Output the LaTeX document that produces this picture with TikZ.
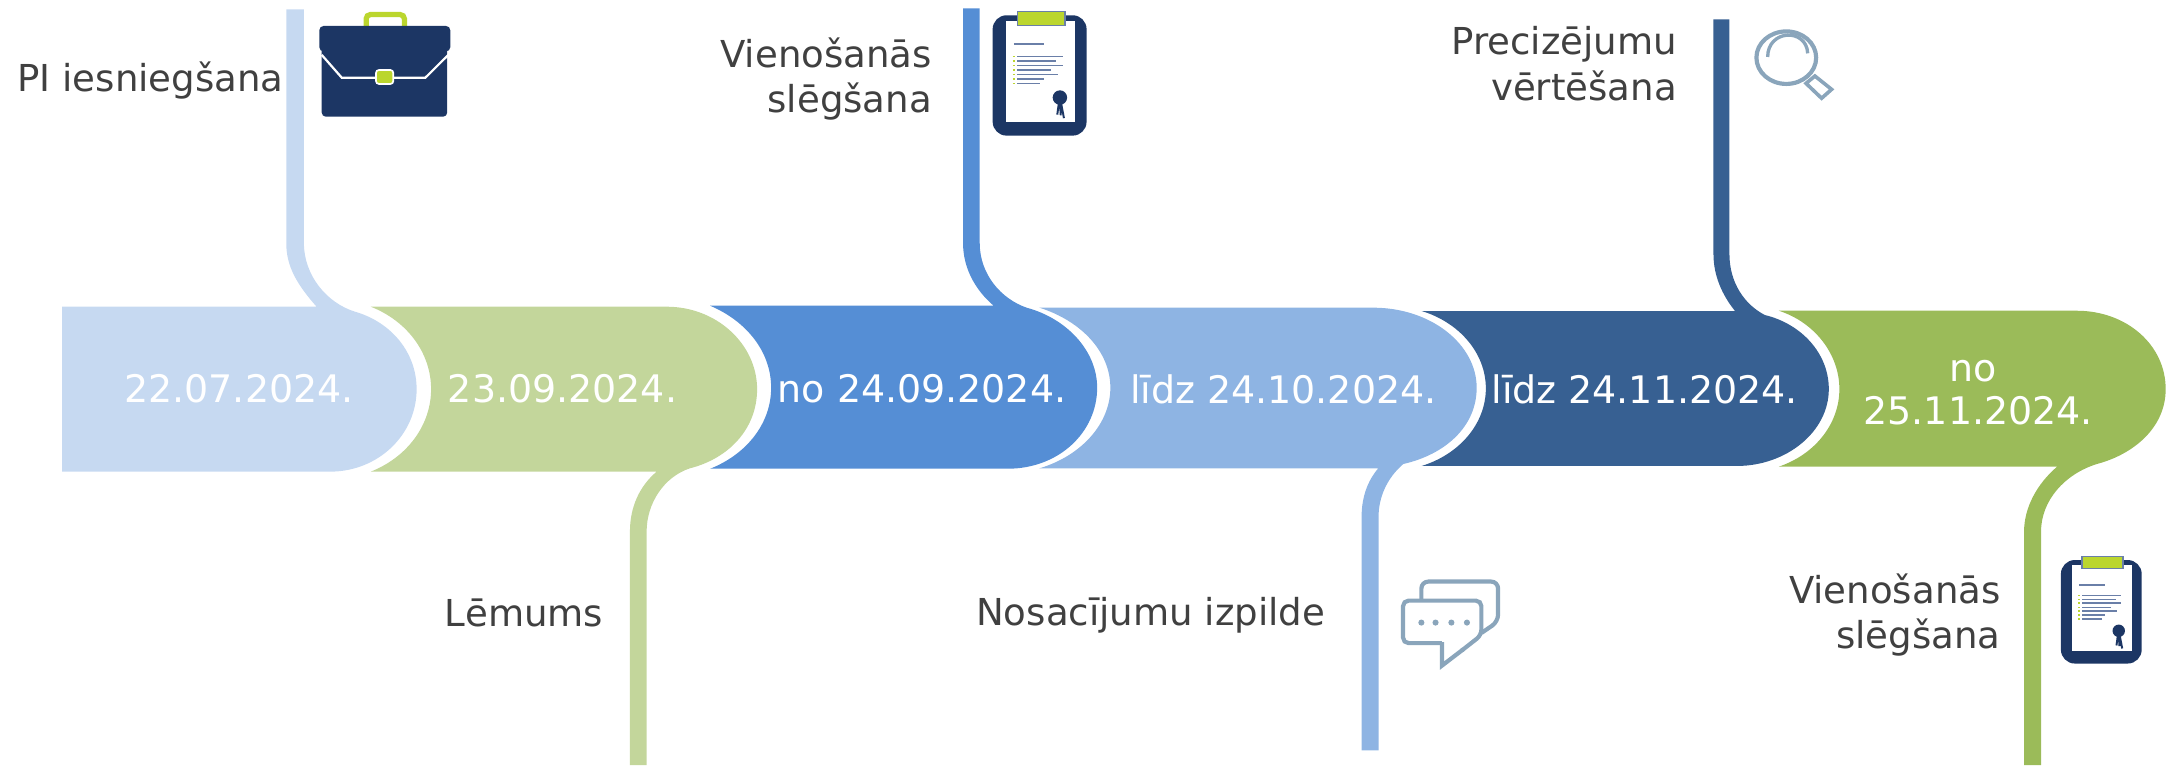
\documentclass[tikz,border=0pt]{standalone}
\usepackage{fontspec}
\setmainfont{DejaVu Sans}

\definecolor{lane1}{HTML}{C6D9F1}
\definecolor{lane2}{HTML}{C3D69B}
\definecolor{lane3}{HTML}{558ED5}
\definecolor{lane4}{HTML}{8EB4E3}
\definecolor{lane5}{HTML}{376092}
\definecolor{lane6}{HTML}{9BBB59}
\definecolor{navy}{HTML}{1C3664}
\definecolor{lime}{HTML}{BBD62E}
\definecolor{slate}{HTML}{8AA5BB}
\definecolor{docline}{HTML}{6A7FA8}
\definecolor{labelgrey}{HTML}{404040}

\tikzset{
	datetext/.style={text=white, inner sep=0pt, align=center, font=\fontsize{13.65}{15.2}\selectfont},
	labeltext/.style={text=labelgrey, inner sep=0pt, align=right, font=\fontsize{13.35}{16.4}\selectfont},
	iconline/.style={slate, line width=1.5pt},
	pics/clipboard/.style={code={
		\fill[navy, rounded corners=5pt] (0,0) rectangle (67.6,86.6);
		\fill[white] (9.6,3.8) rectangle (59.2,76.5);
		\draw[docline, fill=lime, line width=0.5pt] (17.7,-2.9) rectangle (52,7.2);
		\draw[docline, line width=0.6pt] (15.3,20.9) -- (37.2,20.9)
			(17.7,29.7) -- (50.6,29.7) (17.7,33) -- (45.8,33) (17.7,36.2) -- (50.6,36.2)
			(17.7,39.6) -- (41.7,39.6) (17.7,42.7) -- (47.2,42.7) (17.7,46) -- (36.9,46)
			(17.7,49.2) -- (34,49.2);
		\draw[lime, line width=0.6pt] (14.6,29.7) -- (16.2,29.7) (14.6,33) -- (16.2,33)
			(14.6,36.2) -- (16.2,36.2) (14.6,39.6) -- (16.2,39.6) (14.6,42.7) -- (16.2,42.7)
			(14.6,46) -- (16.2,46) (14.6,49.2) -- (16.2,49.2);
		\fill[navy] (48.4,59.2) ellipse (2.6pt and 2.6pt);
		\draw[navy, line width=0.7pt] (47.8,62) -- (46.5,71.5) (49,62) -- (51.3,74) (48.4,62) -- (49,72);
	}}
}

\begin{document}
\begin{tikzpicture}[x=0.5pt, y=-0.5pt]
	\useasboundingbox (0,0) rectangle (1568,550.5);

	% lanes
	\fill[lane1] (44.7,220.7) -- (227.8,220.7) .. controls (214,205) and (206,192) .. (206,175) -- (206,6.7) -- (218.7,6.7) -- (218.7,175) .. controls (218.7,198) and (235,218) .. (255.5,224.3) .. controls (282,232) and (299.8,254) .. (299.8,280) .. controls (299.8,313) and (272,339.4) .. (237.5,339.4) -- (44.7,339.4) -- cycle;

	\fill[lane2] (266.8,220.7) -- (479.7,220.7) .. controls (516,220.7) and (544.8,248) .. (544.8,280) .. controls (544.8,309) and (524,330) .. (496.5,337) .. controls (478,343) and (465.3,362) .. (465.3,382.6) -- (465.3,550.5) -- (453.3,550.5) -- (453.3,382.6) .. controls (453.3,365) and (460,350) .. (472.5,339.4) -- (266.8,339.4) .. controls (293,329) and (310.2,306) .. (310.2,280) .. controls (310.2,254) and (293,231) .. (266.8,220.7) -- cycle;

	\fill[lane3] (511,220) -- (715,220) .. controls (701,208) and (693,192) .. (693,175) -- (693,6) -- (705,6) -- (705,175) .. controls (705,197) and (720,215) .. (739,221.5) .. controls (767,229) and (789.5,252) .. (789.5,279) .. controls (789.5,311) and (762,337.3) .. (725,337.3) -- (511,337.3) .. controls (537,327) and (554.9,305) .. (554.9,279) .. controls (554.9,253) and (537,231) .. (511,220) -- cycle;

	\fill[lane4] (748,221.4) -- (988,221.4) .. controls (1030,221.4) and (1062.6,248) .. (1062.6,279) .. controls (1062.6,307) and (1040,327) .. (1009.8,333.9) .. controls (998,344) and (992,358) .. (992,371.8) -- (992,540) -- (979.8,540) -- (979.8,371.8) .. controls (979.8,358) and (984,346) .. (991.8,337) -- (748,337) .. controls (778,328) and (799,305) .. (799,279) .. controls (799,253) and (778,231) .. (748,221.4) -- cycle;

	\fill[lane5] (1023,223.8) -- (1248.5,223.8) .. controls (1239,212) and (1233,198) .. (1233,183) -- (1233,14) -- (1244.5,14) -- (1244.5,183) .. controls (1244.5,203) and (1255,219) .. (1270,226.7) .. controls (1296,233) and (1316,254) .. (1316,280) .. controls (1316,311) and (1285,335.3) .. (1250,335.3) -- (1023,335.3) .. controls (1050,327) and (1069.2,305) .. (1069.2,279.5) .. controls (1069.2,254) and (1050,232) .. (1023,223.8) -- cycle;

	\fill[lane6] (1280,223.6) -- (1494.4,223.6) .. controls (1530,223.6) and (1558.4,248) .. (1558.4,280) .. controls (1558.4,308) and (1535,327) .. (1508.9,333.9) .. controls (1486,341) and (1468.7,360) .. (1468.7,382.6) -- (1468.7,550.5) -- (1456.5,550.5) -- (1456.5,382.6) .. controls (1456.5,365) and (1466,348) .. (1480.3,335.8) -- (1280,335.8) .. controls (1306,327) and (1323.6,305) .. (1323.6,280) .. controls (1323.6,255) and (1306,232) .. (1280,223.6) -- cycle;

	% dates
	\node[datetext] (date1) at (172,280) {22.07.2024.};
	\node[datetext] (date2) at (404.8,280) {23.09.2024.};
	\node[datetext] (date3) at (663.5,280) {no 24.09.2024.};
	\node[datetext] (date4) at (923.5,280) {līdz 24.10.2024.};
	\node[datetext] (date5) at (1183.5,280.5) {līdz 24.11.2024.};
	\node[datetext] (date6) at (1423.5,282.5) {no\hspace*{4pt}\\25.11.2024.};

	% labels
	\node[labeltext, anchor=east] (iesniegsana) at (204.5,58) {PI iesniegšana};
	\node[labeltext, anchor=east] (sleg1) at (671,57) {Vienošanās\\slēgšana};
	\node[labeltext, anchor=east] (vertesana) at (1207,46) {Precizējumu\\vērtēšana};
	\node[labeltext] (lemums) at (377,441) {Lēmums};
	\node[labeltext] (izpilde) at (828,443) {Nosacījumu izpilde};
	\node[labeltext, anchor=east] (sleg2) at (1440,442.5) {Vienošanās\\slēgšana};

	% briefcase
	\draw[lime, line width=1.9pt, rounded corners=1.5pt] (263.5,19) -- (263.5,10.5) -- (291,10.5) -- (291,19);
	\fill[navy, rounded corners=1.5pt] (231.5,30) rectangle (321.8,84);
	\fill[navy, rounded corners=1.5pt] (229.8,18.7) rectangle (324,37);
	\draw[white, line width=0.8pt] (231.5,39.5) -- (246,56) -- (306,56) -- (322.6,39.5);
	\draw[white, fill=lime, line width=0.6pt, rounded corners=1pt] (270.6,50.4) rectangle (283,60.4);

	\pic at (714.3,11) {clipboard};
	\pic[scale=0.86] at (1483,403) {clipboard};

	% magnifier
	\draw[iconline] (1285.4,41.5) ellipse (10.75pt and 9.45pt);
	\draw[iconline, line width=1.2pt] (1272,41) .. controls (1272,21) and (1300,20) .. (1300.8,38.4);
	\draw[iconline, line width=1.3pt] (1299.6,60) -- (1306,54.7) -- (1318,64.3) -- (1310.8,70.7) -- cycle;

	% speech bubbles
	\draw[iconline, rounded corners=2.5pt] (1022.8,432) -- (1022.8,418.5) -- (1078,418.5) -- (1078,447.3) -- (1066,455.5);
	\draw[iconline, rounded corners=2pt] (1037.6,462.8) -- (1009.6,462.8) -- (1009.6,432.2) -- (1066,432.2) -- (1066,457) -- (1052,468);
	\draw[iconline, line join=miter] (1053,467.2) -- (1037.6,479) -- (1037.6,462);
	\fill[slate] (1022.8,448) circle (1.1pt) (1033,448) circle (1.1pt) (1044.4,448) circle (1.1pt) (1055.6,448) circle (1.1pt);
\end{tikzpicture}
\end{document}
